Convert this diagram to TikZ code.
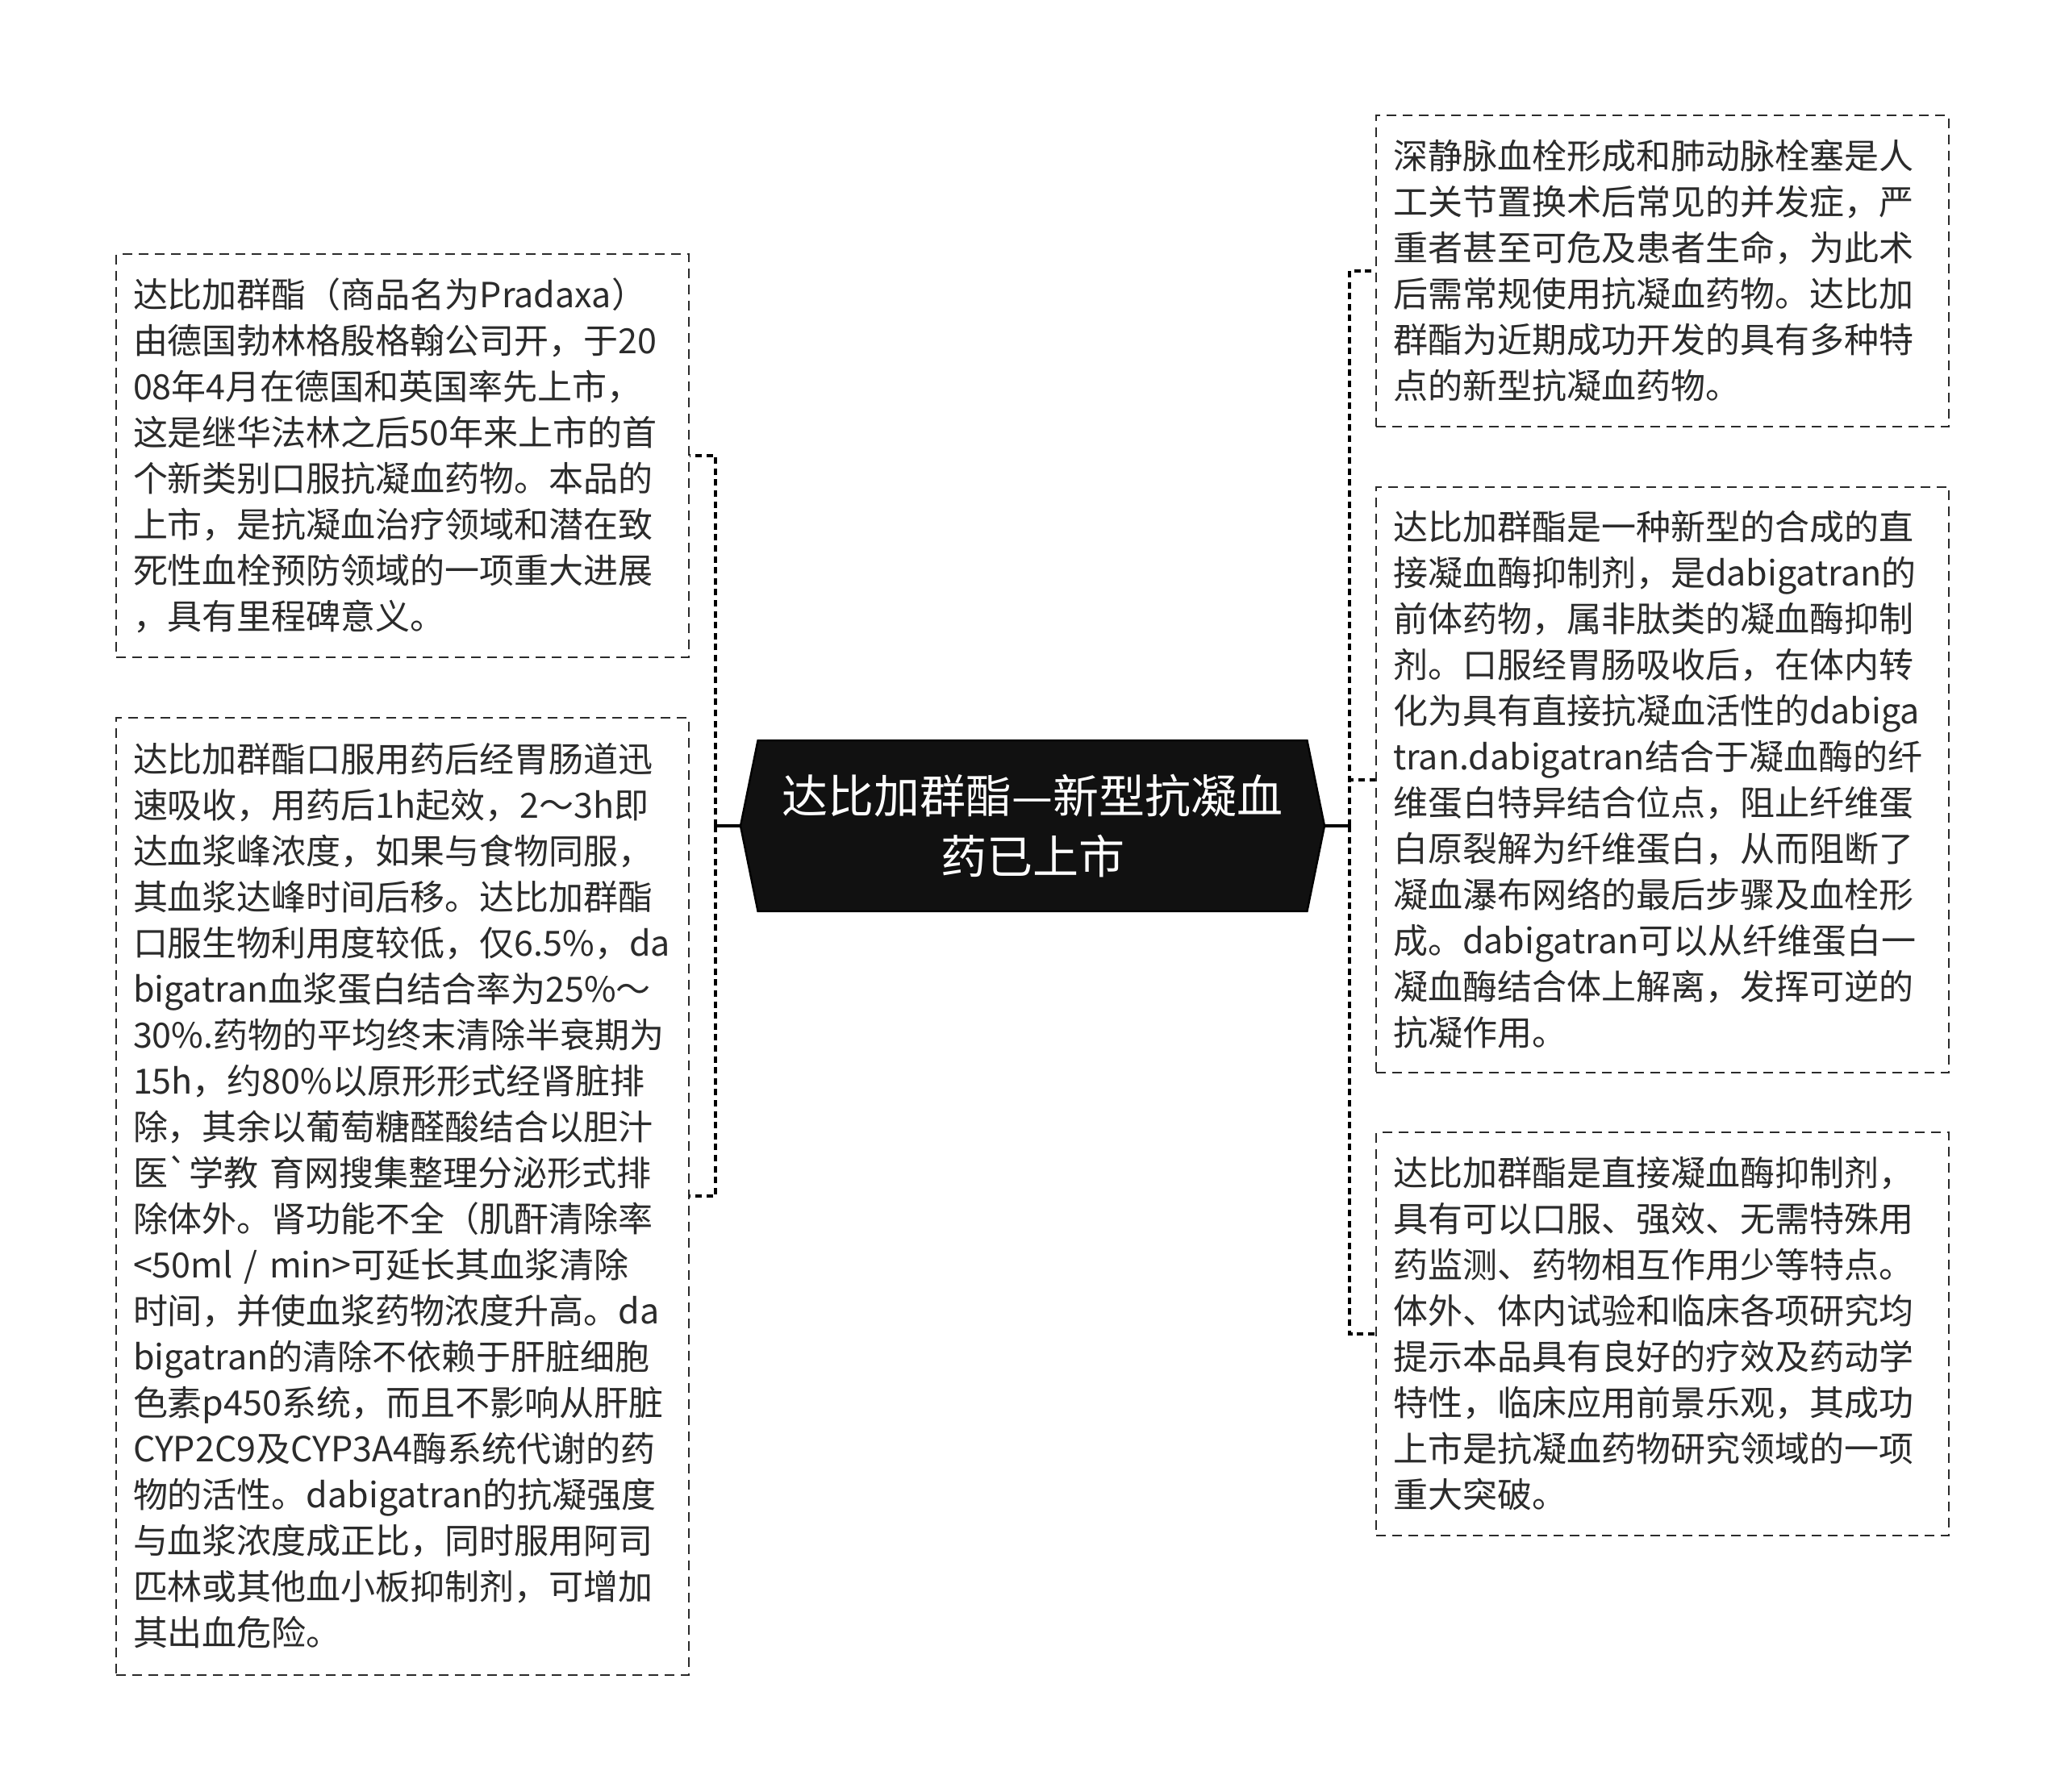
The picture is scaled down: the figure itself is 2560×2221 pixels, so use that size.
\documentclass[tikz,border=0pt]{standalone}
\usepackage{fontspec}
\newfontfamily\cjk{Noto Sans CJK SC}
\usetikzlibrary{shapes.symbols}
\definecolor{txtgray}{HTML}{2B2B2B}
\definecolor{rootfill}{HTML}{111111}

\begin{document}
\begin{tikzpicture}[
  x=0.25pt, y=-0.25pt,
  topic/.style={shape=signal, signal to=west and east, signal pointer angle=157,
    fill=rootfill, draw=black, line width=0.6pt, text=white, align=center,
    minimum width=181pt, minimum height=53pt, inner sep=0pt,
    font=\cjk\fontsize{14.25}{18.75}\selectfont},
  note/.style={draw=txtgray, dash pattern=on 3pt off 2pt, line width=0.5pt,
    text=txtgray, align=left, text width=167pt, inner xsep=5.25pt, inner ysep=0pt,
    font=\cjk\fontsize{10.75}{14.25}\selectfont},
  link/.style={draw=black, line width=1.1pt, dash pattern=on 2pt off 1.4pt},
  stem/.style={draw=black, line width=0.8pt},
]
\useasboundingbox (0,0) rectangle (2560,2221);
\fill[white] (0,0) rectangle (2560,2221);

\node[topic] (root) at (1280,1024) {达比加群酯—新型抗凝血\\药已上市};

\node[note, minimum height=124.9pt] (launch) at (499,565) {%
达比加群酯（商品名为Pradaxa）\\
由德国勃林格殷格翰公司开，于20\\
08年4月在德国和英国率先上市，\\
这是继华法林之后50年来上市的首\\
个新类别口服抗凝血药物。本品的\\
上市，是抗凝血治疗领域和潜在致\\
死性血栓预防领域的一项重大进展\\
，具有里程碑意义。};

\node[note, minimum height=296.75pt] (kinetics) at (499,1483) {%
达比加群酯口服用药后经胃肠道迅\\
速吸收，用药后1h起效，2～3h即\\
达血浆峰浓度，如果与食物同服，\\
其血浆达峰时间后移。达比加群酯\\
口服生物利用度较低，仅6.5\%，da\\
bigatran血浆蛋白结合率为25\%～\\
30\%.药物的平均终末清除半衰期为\\
15h，约80\%以原形形式经肾脏排\\
除，其余以葡萄糖醛酸结合以胆汁\\
医`学教 育网搜集整理分泌形式排\\
除体外。肾功能不全（肌酐清除率\\
<50ml / min>可延长其血浆清除\\
时间，并使血浆药物浓度升高。da\\
bigatran的清除不依赖于肝脏细胞\\
色素p450系统，而且不影响从肝脏\\
CYP2C9及CYP3A4酶系统代谢的药\\
物的活性。dabigatran的抗凝强度\\
与血浆浓度成正比，同时服用阿司\\
匹林或其他血小板抑制剂，可增加\\
其出血危险。};

\node[note, minimum height=96.3pt] (need) at (2061,336) {%
深静脉血栓形成和肺动脉栓塞是人\\
工关节置换术后常见的并发症，严\\
重者甚至可危及患者生命，为此术\\
后需常规使用抗凝血药物。达比加\\
群酯为近期成功开发的具有多种特\\
点的新型抗凝血药物。};

\node[note, minimum height=181.65pt] (mechanism) at (2061,967) {%
达比加群酯是一种新型的合成的直\\
接凝血酶抑制剂，是dabigatran的\\
前体药物，属非肽类的凝血酶抑制\\
剂。口服经胃肠吸收后，在体内转\\
化为具有直接抗凝血活性的dabiga\\
tran.dabigatran结合于凝血酶的纤\\
维蛋白特异结合位点，阻止纤维蛋\\
白原裂解为纤维蛋白，从而阻断了\\
凝血瀑布网络的最后步骤及血栓形\\
成。dabigatran可以从纤维蛋白一\\
凝血酶结合体上解离，发挥可逆的\\
抗凝作用。};

\node[note, minimum height=124.9pt] (outlook) at (2061,1654) {%
达比加群酯是直接凝血酶抑制剂，\\
具有可以口服、强效、无需特殊用\\
药监测、药物相互作用少等特点。\\
体外、体内试验和临床各项研究均\\
提示本品具有良好的疗效及药动学\\
特性，临床应用前景乐观，其成功\\
上市是抗凝血药物研究领域的一项\\
重大突破。};

\coordinate (lbar) at (887,1024);
\coordinate (rbar) at (1673,1024);

\draw[stem] (root.west) -- (lbar);
\draw[stem] (root.east) -- (rbar);
\draw[link] (lbar) |- (launch.east);
\draw[link] (lbar) |- (kinetics.east);
\draw[link] (rbar) |- (need.west);
\draw[link] (rbar) |- (mechanism.west);
\draw[link] (rbar) |- (outlook.west);
\end{tikzpicture}
\end{document}
